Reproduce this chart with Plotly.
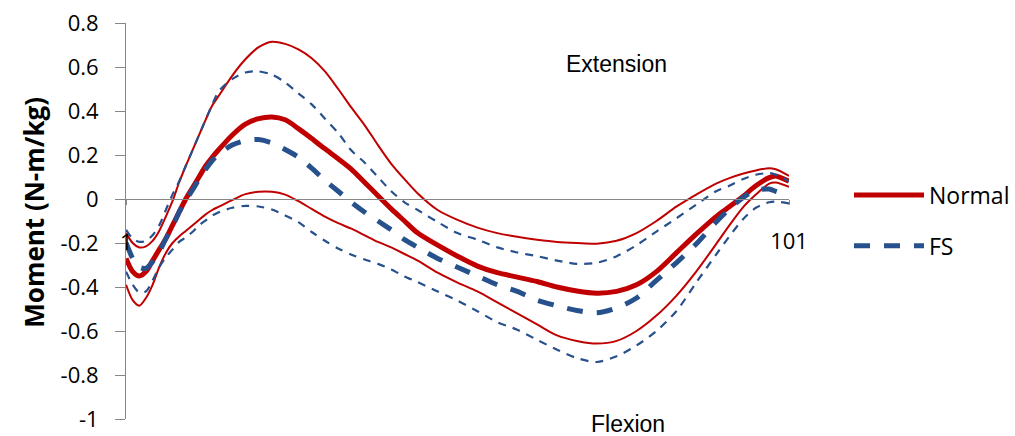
import plotly.graph_objects as go

# Percent of gait cycle at which each curve was sampled
cycle = [1, 2, 3, 4, 5, 6, 7, 8, 9, 10, 11, 12, 13, 14, 15,
         17, 19, 21, 23, 25, 27, 29, 31, 33, 35, 37, 39, 41, 43, 45,
         48, 51, 54, 57, 60, 63, 66, 69, 72, 75,
         78, 81, 84, 87, 90, 92, 94, 96, 98, 99, 101]

# Normal group: mean and +/- 1 SD bands (N-m/kg)
normal_mean = [-0.27, -0.33, -0.35, -0.33, -0.28, -0.23, -0.18, -0.12, -0.06, 0.0, 0.05, 0.10, 0.15, 0.19, 0.225,
               0.29, 0.34, 0.365, 0.373, 0.36, 0.32, 0.275, 0.228, 0.183, 0.135, 0.075, 0.015, -0.045, -0.10, -0.155,
               -0.21, -0.26, -0.305, -0.335, -0.355, -0.375, -0.40, -0.418, -0.428, -0.42,
               -0.39, -0.33, -0.245, -0.16, -0.08, -0.035, 0.01, 0.06, 0.097, 0.105, 0.08]
normal_upper = [-0.155, -0.20, -0.22, -0.215, -0.19, -0.145, -0.08, -0.01, 0.075, 0.15, 0.22, 0.29, 0.36, 0.425, 0.47,
                0.56, 0.635, 0.69, 0.715, 0.705, 0.68, 0.64, 0.58, 0.50, 0.415, 0.335, 0.245, 0.16, 0.09, 0.025,
                -0.05, -0.095, -0.13, -0.155, -0.172, -0.185, -0.195, -0.20, -0.203, -0.19,
                -0.155, -0.10, -0.035, 0.02, 0.07, 0.095, 0.115, 0.13, 0.14, 0.135, 0.105]
normal_lower = [-0.39, -0.46, -0.485, -0.45, -0.39, -0.31, -0.245, -0.20, -0.17, -0.145, -0.12, -0.095, -0.07, -0.05, -0.035,
                -0.005, 0.022, 0.033, 0.033, 0.02, -0.01, -0.045, -0.08, -0.11, -0.135, -0.165, -0.195, -0.22, -0.25, -0.28,
                -0.335, -0.38, -0.42, -0.47, -0.52, -0.57, -0.62, -0.645, -0.657, -0.645,
                -0.60, -0.53, -0.44, -0.33, -0.205, -0.12, -0.04, 0.02, 0.07, 0.075, 0.055]

# FS group: mean and +/- 1 SD bands (N-m/kg)
fs_mean = [-0.20, -0.27, -0.31, -0.315, -0.285, -0.24, -0.18, -0.125, -0.06, -0.005, 0.04, 0.09, 0.135, 0.175, 0.205,
           0.245, 0.265, 0.27, 0.255, 0.225, 0.19, 0.14, 0.085, 0.035, -0.015, -0.06, -0.10, -0.14, -0.185, -0.22,
           -0.27, -0.31, -0.35, -0.39, -0.42, -0.46, -0.485, -0.507, -0.517, -0.495,
           -0.45, -0.37, -0.29, -0.205, -0.105, -0.045, 0.005, 0.04, 0.045, 0.035, 0.015]
fs_upper = [-0.14, -0.18, -0.195, -0.19, -0.165, -0.12, -0.05, 0.02, 0.08, 0.15, 0.22, 0.29, 0.36, 0.43, 0.49,
            0.545, 0.575, 0.58, 0.565, 0.53, 0.48, 0.43, 0.365, 0.30, 0.22, 0.165, 0.10, 0.035, -0.015, -0.05,
            -0.105, -0.155, -0.185, -0.22, -0.243, -0.26, -0.28, -0.295, -0.29, -0.26,
            -0.21, -0.148, -0.088, -0.026, 0.035, 0.06, 0.09, 0.11, 0.118, 0.11, 0.08]
fs_lower = [-0.33, -0.39, -0.425, -0.42, -0.37, -0.31, -0.265, -0.23, -0.195, -0.175, -0.15, -0.12, -0.097, -0.075, -0.06,
            -0.04, -0.031, -0.034, -0.048, -0.075, -0.105, -0.15, -0.19, -0.225, -0.253, -0.275, -0.295, -0.32, -0.352, -0.378,
            -0.42, -0.462, -0.51, -0.56, -0.594, -0.64, -0.685, -0.723, -0.741, -0.715,
            -0.666, -0.60, -0.51, -0.38, -0.253, -0.17, -0.094, -0.04, -0.015, -0.012, -0.02]

y_ticks = [0.8, 0.6, 0.4, 0.2, 0, -0.2, -0.4, -0.6, -0.8, -1]
y_tick_text = ["0.8", "0.6", "0.4", "0.2", "0", "-0.2", "-0.4", "-0.6", "-0.8", "-1"]
x_ticks = [1, 101]
x_tick_text = ["1", "101"]

RED = "#C00000"
BLUE = "#27518C"
AXIS = "#868686"
LABEL_FONT = dict(family="Open Sans", size=22, color="#000000")

fig = go.Figure()


def add_line(y, color, width, dash, name=None, legend=False, group=None):
    fig.add_trace(go.Scatter(
        x=cycle, y=y, mode="lines", name=name,
        line=dict(color=color, width=width, dash=dash, shape="spline", smoothing=0.8),
        showlegend=legend, legendgroup=group, hoverinfo="skip",
    ))


add_line(normal_upper, RED, 2, "solid")
add_line(normal_lower, RED, 2, "solid")
add_line(normal_mean, RED, 5, "solid", "Normal", True, "normal")
add_line(fs_upper, BLUE, 2.2, "8px,7px")
add_line(fs_lower, BLUE, 2.2, "8px,7px")
add_line(fs_mean, BLUE, 5, "16px,14px", "FS", True, "fs")

fig.add_annotation(x=75, y=0.615, text="Extension", showarrow=False,
                   font=dict(family="Liberation Sans", size=23, color="#000000"))
fig.add_annotation(x=76.7, yref="paper", y=-0.012, yanchor="middle", text="Flexion", showarrow=False,
                   font=dict(family="Liberation Sans", size=23, color="#000000"))
# label of the first category, placed where the category axis labels sit
fig.add_annotation(x=x_ticks[0], yref="paper", y=0.450, yanchor="middle", text=x_tick_text[0],
                   showarrow=False, font=LABEL_FONT)
fig.add_annotation(xref="paper", yref="paper", x=-0.139, y=0.523,
                   xanchor="center", yanchor="middle",
                   text="<b>Moment (N-m/kg)</b>", showarrow=False, textangle=-90,
                   font=dict(family="Open Sans", size=26, color="#000000"))

fig.update_layout(
    width=1015, height=436,
    margin=dict(l=126, r=226, t=23, b=17, autoexpand=False),
    paper_bgcolor="white", plot_bgcolor="white",
    font=LABEL_FONT,
    legend=dict(x=1.0905, xanchor="left", y=0.62, yanchor="top",
                itemwidth=70, tracegroupgap=18, traceorder="grouped",
                font=dict(family="Open Sans", size=23, color="#000000"),
                bgcolor="rgba(0,0,0,0)"),
    xaxis=dict(range=[0.99, 101], anchor="free", position=1 / 1.8,
               showgrid=False, zeroline=False,
               showline=True, linecolor=AXIS, linewidth=1,
               tickmode="array", tickvals=x_ticks, ticktext=["", x_tick_text[1]],
               ticks="outside", ticklen=5, tickcolor=AXIS,
               ticklabelstandoff=18, tickfont=LABEL_FONT),
    yaxis=dict(range=[-1, 0.8], showgrid=False, zeroline=False,
               showline=True, linecolor=AXIS, linewidth=1,
               tickmode="array", tickvals=y_ticks, ticktext=y_tick_text,
               ticks="outside", ticklen=10, tickcolor=AXIS,
               ticklabelstandoff=12, tickfont=LABEL_FONT),
)

fig.write_html("out.html")
